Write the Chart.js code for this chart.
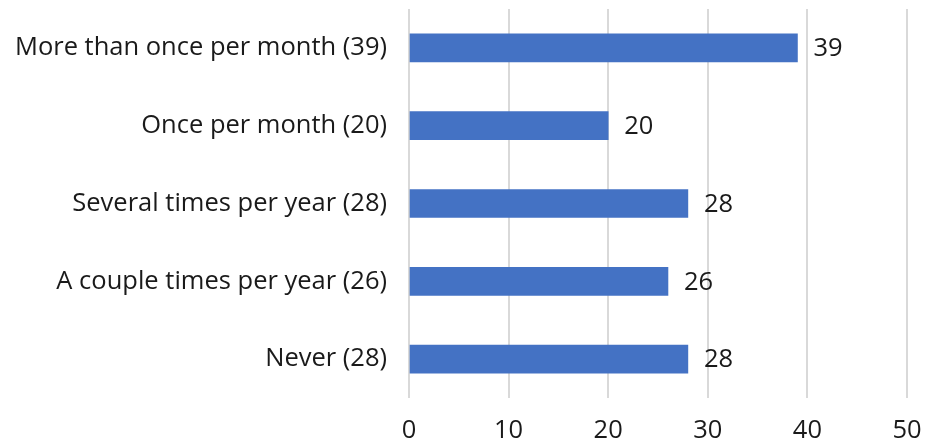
<!DOCTYPE html>
<html>
<head>
<meta charset="utf-8">
<script src="https://cdn.jsdelivr.net/npm/chart.js@4/dist/chart.umd.min.js"></script>
<style>
html,body{margin:0;padding:0;background:#fff;}
#wrap{width:925px;height:443px;position:relative;}
</style>
</head>
<body>
<div id="wrap"><canvas id="c" width="925" height="443"></canvas></div>
<script>
const categories = [
  "More than once per month (39)",
  "Once per month (20)",
  "Several times per year (28)",
  "A couple times per year (26)",
  "Never (28)"
];
const values = [39, 20, 28, 26, 28];
const xTicks = [0, 10, 20, 30, 40, 50];

const FONT = "'Open Sans', sans-serif";
const FSIZE = 25.5;
const TXT = '#1a1a1a';

function zeroPad(scale) {
  scale.paddingTop = 0; scale.paddingBottom = 0;
  scale.paddingLeft = 0; scale.paddingRight = 0;
}

const labelPlugin = {
  id: 'valueLabels',
  afterDatasetsDraw(chart) {
    const ctx = chart.ctx;
    const meta = chart.getDatasetMeta(0);
    ctx.save();
    ctx.font = FSIZE + 'px ' + FONT;
    ctx.fillStyle = TXT;
    ctx.textAlign = 'left';
    ctx.textBaseline = 'middle';
    meta.data.forEach((bar, i) => {
      ctx.fillText(String(values[i]), bar.x + 16, bar.y + 1);
    });
    ctx.restore();
  }
};

new Chart(document.getElementById('c'), {
  type: 'bar',
  data: {
    labels: categories,
    datasets: [{
      data: values,
      backgroundColor: '#4472C4',
      borderWidth: 0,
      barThickness: 28
    }]
  },
  options: {
    indexAxis: 'y',
    responsive: false,
    animation: false,
    devicePixelRatio: 1,
    layout: { autoPadding: false, padding: { left: 0, right: 18, top: 9, bottom: 0 } },
    plugins: { legend: { display: false }, tooltip: { enabled: false } },
    scales: {
      x: {
        min: 0, max: 50,
        afterBuildTicks(scale) { scale.ticks = xTicks.map(v => ({ value: v })); },
        afterFit(scale) { scale.height = 45; zeroPad(scale); },
        grid: { color: '#d9d9d9', lineWidth: 2, drawTicks: false },
        border: { display: false },
        ticks: { font: { family: FONT, size: FSIZE }, color: TXT, padding: 17 }
      },
      y: {
        afterFit(scale) { scale.width = 409; zeroPad(scale); },
        grid: { display: false, drawTicks: false },
        border: { display: false },
        ticks: { font: { family: FONT, size: FSIZE }, color: TXT, padding: 22 }
      }
    }
  },
  plugins: [labelPlugin]
});
</script>
</body>
</html>
